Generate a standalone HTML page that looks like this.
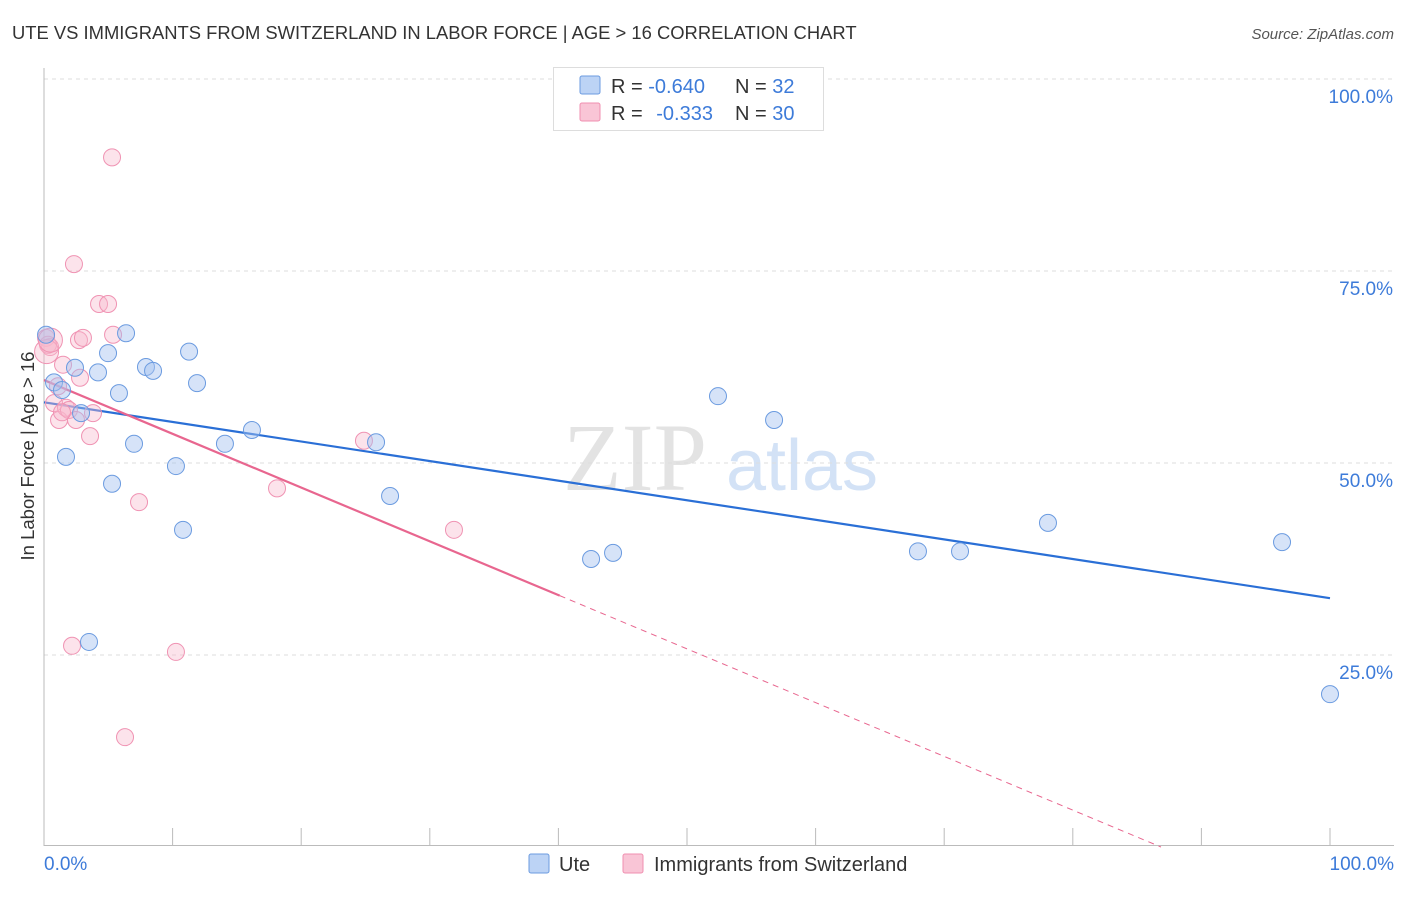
<!DOCTYPE html>
<html><head><meta charset="utf-8"><style>
body{margin:0;background:#fff;font-family:"Liberation Sans",sans-serif}
</style></head><body>
<svg width="1406" height="892" xmlns="http://www.w3.org/2000/svg" id="chart" font-family="Liberation Sans, sans-serif">
<text x="12" y="39" font-size="18.4" fill="#333">UTE VS IMMIGRANTS FROM SWITZERLAND IN LABOR FORCE | AGE &gt; 16 CORRELATION CHART</text>
<text x="1394" y="39" font-size="15" fill="#555" font-style="italic" text-anchor="end">Source: ZipAtlas.com</text>
<g>
<text x="635" y="490" font-size="96" fill="#ddd" font-family="Liberation Serif, serif" text-anchor="middle" opacity="0.8">ZIP</text>
<text x="802" y="490" font-size="72" fill="#c9dcf5" text-anchor="middle" opacity="0.8">atlas</text>
</g>
<g id="grid"></g>
<g id="axes"></g>
<g id="lines"></g>
<g id="points"></g>
<text x="34" y="456" font-size="18.5" fill="#333" text-anchor="middle" transform="rotate(-90 34 456)">In Labor Force | Age &gt; 16</text>
<text x="44" y="870" font-size="19" fill="#3d7bd9">0.0%</text>
<text x="1394" y="870" font-size="19" fill="#3d7bd9" text-anchor="end">100.0%</text>
<g>
<rect x="553.5" y="67.5" width="270" height="63" fill="#fff" stroke="#ddd"/>
<rect x="580" y="76" width="20" height="18" fill="#bcd3f5" stroke="#6b9be0" rx="2"/>
<rect x="580" y="103" width="20" height="18" fill="#f9c5d6" stroke="#f08fb0" rx="2"/>
<text x="611" y="93" font-size="20" fill="#333">R = <tspan fill="#3d7bd9">-0.640</tspan><tspan x="735">N = </tspan><tspan fill="#3d7bd9">32</tspan></text>
<text x="611" y="120" font-size="20" fill="#333">R = <tspan fill="#3d7bd9" dx="8">-0.333</tspan><tspan x="735">N = </tspan><tspan fill="#3d7bd9">30</tspan></text>
</g>
<g>
<rect x="529" y="854" width="20" height="19" fill="#bcd3f5" stroke="#6b9be0" rx="2"/>
<text x="559" y="871" font-size="20" fill="#333">Ute</text>
<rect x="623" y="854" width="20" height="19" fill="#f9c5d6" stroke="#f08fb0" rx="2"/>
<text x="654" y="871" font-size="20" fill="#333">Immigrants from Switzerland</text>
</g>
</svg>
<script>
const yTicks=[25,50,75,100];
const yTickLabels=["25.0%","50.0%","75.0%","100.0%"];
const uteX=[0.16,0.78,1.71,2.41,1.40,2.88,4.20,4.98,5.29,5.83,6.38,7.00,7.93,8.48,10.26,10.81,11.28,11.90,14.07,16.17,25.82,26.91,42.54,44.25,52.41,56.77,67.96,71.23,78.07,96.27,100,3.50];
const uteY=[66.7,60.5,50.8,62.4,59.5,56.5,61.8,64.3,47.3,59.1,66.9,52.5,62.5,62.0,49.6,41.3,64.5,60.4,52.5,54.3,52.7,45.7,37.5,38.3,58.7,55.6,38.5,38.5,42.2,39.7,19.9,26.7];
const swissX=[0.16,0.47,0.78,1.17,1.48,1.71,1.94,2.33,2.49,2.72,2.80,3.03,3.58,3.81,4.28,4.98,5.29,5.37,6.30,7.39,10.26,2.18,18.12,24.88,31.88,0.31,1.40,1.09,0.2,0.5];
const swissY=[66.3,65.1,57.8,55.6,62.8,57.2,56.9,75.9,55.6,66.0,61.1,66.3,53.5,56.5,70.7,70.7,89.8,66.7,14.3,44.9,25.4,26.2,46.7,52.9,41.3,65.4,56.6,60.0,64.5,66.0];
const uteTrend=[57.9,32.4];      // value at x=0, x=100
const swissTrend=[60.8,-0.70];   // intercept, slope per %
const swissSolidEnd=40.1;
const NS="http://www.w3.org/2000/svg";
const X=v=>44+v*12.86;
const Y=v=>847-v*7.68;
function mk(tag,attrs,parent){const e=document.createElementNS(NS,tag);for(const k in attrs)e.setAttribute(k,attrs[k]);document.getElementById(parent).appendChild(e);return e;}
yTicks.forEach((t,i)=>{
  const g=mk('line',{x1:44,x2:1394,y1:Y(t),y2:Y(t),stroke:'#ddd','stroke-dasharray':'4,4'},'grid');
  
  
  const tx=mk('text',{x:1393,y:Y(t)+24,'font-size':19,fill:'#3d7bd9','text-anchor':'end'},'grid');
  tx.textContent=yTickLabels[i];
  
  
});
const ax=mk('line',{x1:44,x2:44,y1:68,y2:846,stroke:'#bbb'},'axes');


const bx=mk('line',{x1:44,x2:1394,y1:845.5,y2:845.5,stroke:'#bbb'},'axes');


for(let i=0;i<=10;i++){
  const t=mk('line',{x1:X(i*10),x2:X(i*10),y1:828,y2:845,stroke:'#bbb'},'axes');
  
  
}
const bl=mk('line',{x1:X(0),y1:Y(uteTrend[0]),x2:X(100),y2:Y(uteTrend[1]),stroke:'#2a6fd6','stroke-width':2.2},'lines');


const sf=x=>swissTrend[0]+swissTrend[1]*x;
const zeroX=-swissTrend[0]/swissTrend[1];
const pl=mk('line',{x1:X(0),y1:Y(sf(0)),x2:X(swissSolidEnd),y2:Y(sf(swissSolidEnd)),stroke:'#e8668f','stroke-width':2.2},'lines');


const pd=mk('line',{x1:X(swissSolidEnd),y1:Y(sf(swissSolidEnd)),x2:X(zeroX),y2:Y(0),stroke:'#e8668f','stroke-width':1,'stroke-dasharray':'6,5'},'lines');


swissX.forEach((x,i)=>{
  const c=mk('circle',{cx:X(x),cy:Y(swissY[i]),r:i>=28?12:8.5,fill:'rgba(248,184,204,0.4)',stroke:'#f093b3','stroke-width':1},'points');
  
  
});
uteX.forEach((x,i)=>{
  const c=mk('circle',{cx:X(x),cy:Y(uteY[i]),r:8.5,fill:'rgba(164,194,240,0.45)',stroke:'#6b9be0','stroke-width':1},'points');
  
  
});
</script>
</body></html>
